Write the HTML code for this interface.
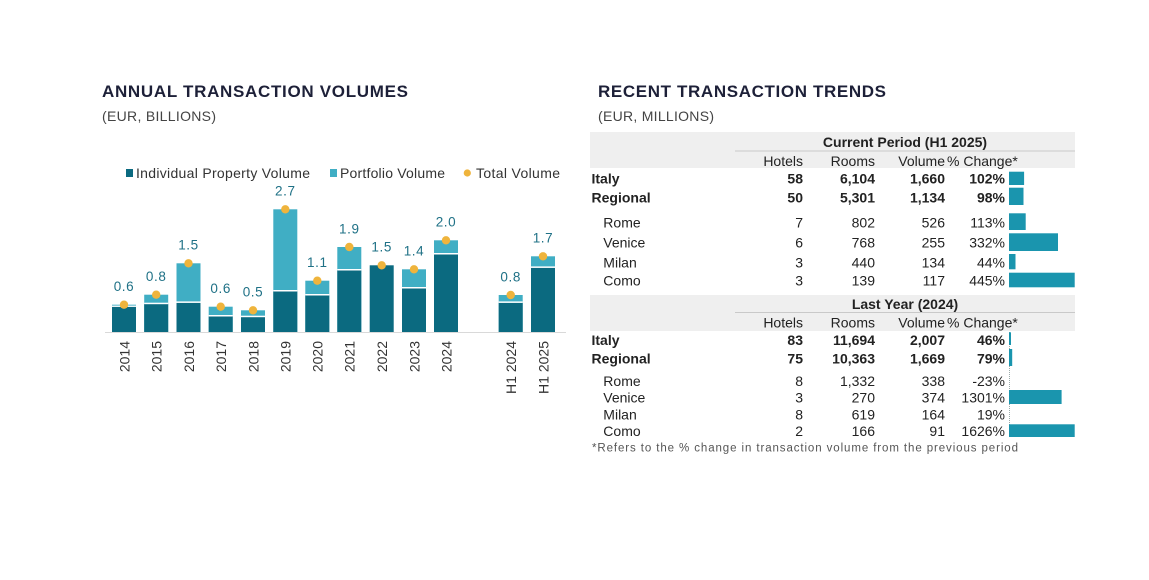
<!DOCTYPE html>
<html><head><meta charset="utf-8"><style>
html,body{margin:0;padding:0;background:#fff;}
svg{display:block;}
text{font-family:"Liberation Sans",Arial,sans-serif;}
</style></head><body>
<svg width="1149" height="580" viewBox="0 0 1149 580" xmlns="http://www.w3.org/2000/svg">
<rect width="1149" height="580" fill="#fff"/>
<!-- Titles -->
<text x="102" y="97" font-size="17" font-weight="bold" fill="#1d2038" textLength="306" lengthAdjust="spacing">ANNUAL TRANSACTION VOLUMES</text>
<text x="102" y="121" font-size="14" fill="#444" textLength="114" lengthAdjust="spacing">(EUR, BILLIONS)</text>
<text x="598" y="97" font-size="17" font-weight="bold" fill="#1d2038" textLength="288" lengthAdjust="spacing">RECENT TRANSACTION TRENDS</text>
<text x="598" y="121" font-size="14" fill="#444" textLength="116" lengthAdjust="spacing">(EUR, MILLIONS)</text>

<!-- Legend -->
<rect x="126" y="169" width="7" height="8" fill="#0b6a80"/>
<text x="136" y="178" font-size="14" fill="#333" textLength="174" lengthAdjust="spacing">Individual Property Volume</text>
<rect x="330" y="169" width="7" height="8" fill="#40aec4"/>
<text x="340" y="178" font-size="14" fill="#333" textLength="105" lengthAdjust="spacing">Portfolio Volume</text>
<circle cx="467.3" cy="173" r="3.6" fill="#efb43c"/>
<text x="476" y="178" font-size="14" fill="#333" textLength="84" lengthAdjust="spacing">Total Volume</text>

<!-- Axis baseline -->
<line x1="105" y1="332.5" x2="566" y2="332.5" stroke="#d9d9d9" stroke-width="1"/>

<g id="bars">
<rect x="112" y="304.7" width="24" height="27.3" fill="#40aec4"/><rect x="112" y="306.7" width="24" height="25.3" fill="#0b6a80"/><rect x="112" y="305.6" width="24" height="1.3" fill="#fff"/>
<rect x="144.2" y="294.7" width="24" height="37.3" fill="#40aec4"/><rect x="144.2" y="304" width="24" height="28" fill="#0b6a80"/><rect x="144.2" y="302.7" width="24" height="1.5" fill="#fff"/>
<rect x="176.5" y="263.3" width="24" height="68.7" fill="#40aec4"/><rect x="176.5" y="302.7" width="24" height="29.3" fill="#0b6a80"/><rect x="176.5" y="301.4" width="24" height="1.5" fill="#fff"/>
<rect x="208.7" y="306.7" width="24" height="25.3" fill="#40aec4"/><rect x="208.7" y="316.3" width="24" height="15.7" fill="#0b6a80"/><rect x="208.7" y="315" width="24" height="1.5" fill="#fff"/>
<rect x="241" y="310.3" width="24" height="21.7" fill="#40aec4"/><rect x="241" y="317" width="24" height="15" fill="#0b6a80"/><rect x="241" y="315.7" width="24" height="1.5" fill="#fff"/>
<rect x="273.3" y="209.3" width="24" height="122.7" fill="#40aec4"/><rect x="273.3" y="291.3" width="24" height="40.7" fill="#0b6a80"/><rect x="273.3" y="290" width="24" height="1.5" fill="#fff"/>
<rect x="305.3" y="280.7" width="24" height="51.3" fill="#40aec4"/><rect x="305.3" y="295.3" width="24" height="36.7" fill="#0b6a80"/><rect x="305.3" y="294" width="24" height="1.5" fill="#fff"/>
<rect x="337.3" y="247" width="24" height="85" fill="#40aec4"/><rect x="337.3" y="270.3" width="24" height="61.7" fill="#0b6a80"/><rect x="337.3" y="269" width="24" height="1.5" fill="#fff"/>
<rect x="369.7" y="265.3" width="24" height="66.7" fill="#0b6a80"/>
<rect x="402" y="269.3" width="24" height="62.7" fill="#40aec4"/><rect x="402" y="288.3" width="24" height="43.7" fill="#0b6a80"/><rect x="402" y="287" width="24" height="1.5" fill="#fff"/>
<rect x="434" y="240.3" width="24" height="91.7" fill="#40aec4"/><rect x="434" y="254.3" width="24" height="77.7" fill="#0b6a80"/><rect x="434" y="253" width="24" height="1.5" fill="#fff"/>
<rect x="498.7" y="295" width="24" height="37" fill="#40aec4"/><rect x="498.7" y="302.7" width="24" height="29.3" fill="#0b6a80"/><rect x="498.7" y="301.4" width="24" height="1.5" fill="#fff"/>
<rect x="531" y="256.3" width="24" height="75.7" fill="#40aec4"/><rect x="531" y="267.7" width="24" height="64.3" fill="#0b6a80"/><rect x="531" y="266.4" width="24" height="1.5" fill="#fff"/>
</g>

<g fill="#efb43c">
<circle cx="124" cy="304.7" r="4.2"/><circle cx="156.2" cy="294.7" r="4.2"/><circle cx="188.5" cy="263.3" r="4.2"/>
<circle cx="220.7" cy="306.7" r="4.2"/><circle cx="253" cy="310.3" r="4.2"/><circle cx="285.3" cy="209.3" r="4.2"/>
<circle cx="317.3" cy="280.7" r="4.2"/><circle cx="349.3" cy="247" r="4.2"/><circle cx="381.7" cy="265.3" r="4.2"/>
<circle cx="414" cy="269.3" r="4.2"/><circle cx="446" cy="240.3" r="4.2"/><circle cx="510.7" cy="295" r="4.2"/>
<circle cx="543" cy="256.3" r="4.2"/>
</g>

<g font-size="13.5" fill="#1f7186" text-anchor="middle" letter-spacing="0.6">
<text x="124" y="291">0.6</text><text x="156.2" y="281">0.8</text><text x="188.5" y="249.6">1.5</text>
<text x="220.7" y="293">0.6</text><text x="253" y="296.6">0.5</text><text x="285.3" y="195.6">2.7</text>
<text x="317.3" y="267">1.1</text><text x="349.3" y="233.3">1.9</text><text x="381.7" y="251.6">1.5</text>
<text x="414" y="255.6">1.4</text><text x="446" y="226.6">2.0</text><text x="510.7" y="281.3">0.8</text>
<text x="543" y="242.6">1.7</text>
</g>

<g font-size="14" fill="#333" text-anchor="end">
<text transform="translate(129.3,341) rotate(-90)">2014</text>
<text transform="translate(161.5,341) rotate(-90)">2015</text>
<text transform="translate(193.8,341) rotate(-90)">2016</text>
<text transform="translate(226,341) rotate(-90)">2017</text>
<text transform="translate(258.3,341) rotate(-90)">2018</text>
<text transform="translate(290.6,341) rotate(-90)">2019</text>
<text transform="translate(322.6,341) rotate(-90)">2020</text>
<text transform="translate(354.6,341) rotate(-90)">2021</text>
<text transform="translate(387,341) rotate(-90)">2022</text>
<text transform="translate(419.3,341) rotate(-90)">2023</text>
<text transform="translate(451.3,341) rotate(-90)">2024</text>
<text transform="translate(516,341) rotate(-90)">H1 2024</text>
<text transform="translate(548.3,341) rotate(-90)">H1 2025</text>
</g>

<!-- Table: current period -->
<rect x="590" y="132" width="485" height="36" fill="#efefef"/>
<line x1="735" y1="151" x2="1075" y2="151" stroke="#c9c9c9" stroke-width="1"/>
<text x="905" y="147" font-size="14" font-weight="bold" fill="#222" text-anchor="middle">Current Period (H1 2025)</text>
<g font-size="14" fill="#222">
<text x="803" y="166" text-anchor="end">Hotels</text>
<text x="875" y="166" text-anchor="end">Rooms</text>
<text x="945" y="166" text-anchor="end">Volume</text>
<text x="947" y="166">% Change*</text>
</g>
<g font-size="14" fill="#222" font-weight="bold">
<text x="591.5" y="183.3">Italy</text><text x="803" y="183.3" text-anchor="end">58</text><text x="875" y="183.3" text-anchor="end">6,104</text><text x="945" y="183.3" text-anchor="end">1,660</text><text x="1005" y="183.3" text-anchor="end">102%</text>
<text x="591.5" y="202.3">Regional</text><text x="803" y="202.3" text-anchor="end">50</text><text x="875" y="202.3" text-anchor="end">5,301</text><text x="945" y="202.3" text-anchor="end">1,134</text><text x="1005" y="202.3" text-anchor="end">98%</text>
</g>
<g font-size="14" fill="#222">
<text x="603.3" y="227.7">Rome</text><text x="803" y="227.7" text-anchor="end">7</text><text x="875" y="227.7" text-anchor="end">802</text><text x="945" y="227.7" text-anchor="end">526</text><text x="1005" y="227.7" text-anchor="end">113%</text>
<text x="603.3" y="247.7">Venice</text><text x="803" y="247.7" text-anchor="end">6</text><text x="875" y="247.7" text-anchor="end">768</text><text x="945" y="247.7" text-anchor="end">255</text><text x="1005" y="247.7" text-anchor="end">332%</text>
<text x="603.3" y="267.7">Milan</text><text x="803" y="267.7" text-anchor="end">3</text><text x="875" y="267.7" text-anchor="end">440</text><text x="945" y="267.7" text-anchor="end">134</text><text x="1005" y="267.7" text-anchor="end">44%</text>
<text x="603.3" y="285.7">Como</text><text x="803" y="285.7" text-anchor="end">3</text><text x="875" y="285.7" text-anchor="end">139</text><text x="945" y="285.7" text-anchor="end">117</text><text x="1005" y="285.7" text-anchor="end">445%</text>
</g>
<g fill="#1a95ae">
<rect x="1009" y="171.7" width="15.1" height="13.3"/>
<rect x="1009" y="187.7" width="14.5" height="17.3"/>
<rect x="1009" y="213.3" width="16.7" height="16.7"/>
<rect x="1009" y="233.3" width="49" height="17.7"/>
<rect x="1009" y="254" width="6.5" height="15.3"/>
<rect x="1009" y="272.7" width="65.7" height="14.6"/>
</g>

<!-- Table: last year -->
<rect x="590" y="295" width="485" height="36" fill="#efefef"/>
<line x1="735" y1="312.5" x2="1075" y2="312.5" stroke="#c9c9c9" stroke-width="1"/>
<text x="905" y="309" font-size="14" font-weight="bold" fill="#222" text-anchor="middle">Last Year (2024)</text>
<g font-size="14" fill="#222">
<text x="803" y="327.3" text-anchor="end">Hotels</text>
<text x="875" y="327.3" text-anchor="end">Rooms</text>
<text x="945" y="327.3" text-anchor="end">Volume</text>
<text x="947" y="327.3">% Change*</text>
</g>
<g font-size="14" fill="#222" font-weight="bold">
<text x="591.5" y="345">Italy</text><text x="803" y="345" text-anchor="end">83</text><text x="875" y="345" text-anchor="end">11,694</text><text x="945" y="345" text-anchor="end">2,007</text><text x="1005" y="345" text-anchor="end">46%</text>
<text x="591.5" y="363.3">Regional</text><text x="803" y="363.3" text-anchor="end">75</text><text x="875" y="363.3" text-anchor="end">10,363</text><text x="945" y="363.3" text-anchor="end">1,669</text><text x="1005" y="363.3" text-anchor="end">79%</text>
</g>
<g font-size="14" fill="#222">
<text x="603.3" y="386">Rome</text><text x="803" y="386" text-anchor="end">8</text><text x="875" y="386" text-anchor="end">1,332</text><text x="945" y="386" text-anchor="end">338</text><text x="1005" y="386" text-anchor="end">-23%</text>
<text x="603.3" y="402.7">Venice</text><text x="803" y="402.7" text-anchor="end">3</text><text x="875" y="402.7" text-anchor="end">270</text><text x="945" y="402.7" text-anchor="end">374</text><text x="1005" y="402.7" text-anchor="end">1301%</text>
<text x="603.3" y="419.3">Milan</text><text x="803" y="419.3" text-anchor="end">8</text><text x="875" y="419.3" text-anchor="end">619</text><text x="945" y="419.3" text-anchor="end">164</text><text x="1005" y="419.3" text-anchor="end">19%</text>
<text x="603.3" y="436">Como</text><text x="803" y="436" text-anchor="end">2</text><text x="875" y="436" text-anchor="end">166</text><text x="945" y="436" text-anchor="end">91</text><text x="1005" y="436" text-anchor="end">1626%</text>
</g>
<line x1="1009.5" y1="332" x2="1009.5" y2="437" stroke="#9aa" stroke-width="1" stroke-dasharray="1,1"/>
<g fill="#1a95ae">
<rect x="1009" y="332.3" width="2" height="12.7"/>
<rect x="1009" y="349" width="3.2" height="17"/>
<rect x="1009" y="390" width="52.6" height="14"/>
<rect x="1009" y="424.3" width="65.7" height="12.7"/>
</g>
<text x="592" y="451.5" font-size="11.5" fill="#555" textLength="426" lengthAdjust="spacing">*Refers to the % change in transaction volume from the previous period</text>
</svg>
</body></html>
